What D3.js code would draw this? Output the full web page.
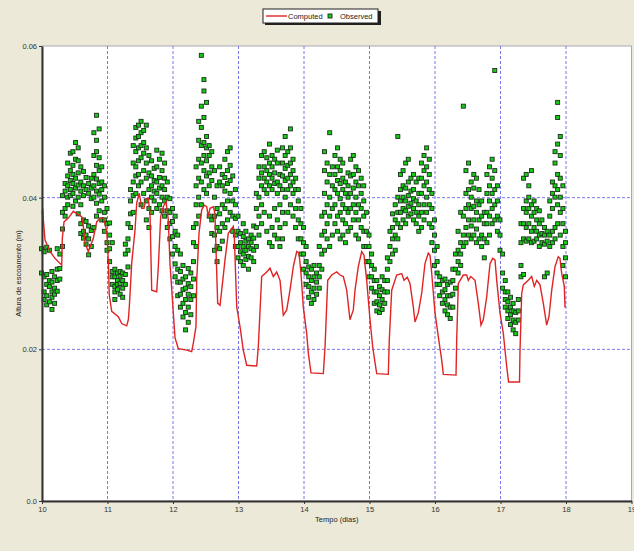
<!DOCTYPE html>
<html>
<head>
<meta charset="utf-8">
<script src="https://cdn.jsdelivr.net/npm/d3@7"></script>
<style>
  html, body { margin: 0; padding: 0; background: #ECE9D8; }
  svg { display: block; font-family: "Liberation Sans", Arial, sans-serif; }
</style>
</head>
<body>
<div id="chart"></div>
<script>
// Axis ticks
const xTicks = [10, 11, 12, 13, 14, 15, 16, 17, 18, 19];
const yTicks = [0, 0.02, 0.04, 0.06];
const yTickLabels = ["0.0", "0.02", "0.04", "0.06"];
const xTitle = "Tempo (dias)";
const yTitle = "Altura de escoamento (m)";
const seriesNames = ["Computed", "Observed"];

// Computed flow height: [day, metres]
const computed = [
  [10.0, 0.0378], [10.011, 0.0386], [10.02, 0.0371], [10.046, 0.0344], [10.122, 0.0329],
  [10.198, 0.0320], [10.301, 0.0311], [10.31, 0.0346], [10.336, 0.0368], [10.402, 0.0373],
  [10.478, 0.0382], [10.53, 0.0379], [10.606, 0.0375], [10.631, 0.0362], [10.656, 0.0340],
  [10.707, 0.0329], [10.733, 0.0335], [10.783, 0.0346], [10.835, 0.0368], [10.885, 0.0373],
  [10.936, 0.0373], [10.988, 0.0357], [11.012, 0.0318], [11.027, 0.0272], [11.064, 0.0250],
  [11.165, 0.0243], [11.217, 0.0234], [11.293, 0.0231], [11.318, 0.0239], [11.333, 0.0256],
  [11.369, 0.0313], [11.42, 0.0357], [11.446, 0.0393], [11.485, 0.0406], [11.522, 0.0386],
  [11.557, 0.0386], [11.588, 0.0399], [11.623, 0.0399], [11.649, 0.0379], [11.675, 0.0278],
  [11.751, 0.0276], [11.776, 0.0309], [11.812, 0.0375], [11.852, 0.0388], [11.893, 0.0395],
  [11.928, 0.0371], [11.954, 0.0313], [12.005, 0.0248], [12.031, 0.0215], [12.081, 0.0201],
  [12.209, 0.0199], [12.285, 0.0197], [12.31, 0.0208], [12.351, 0.0230], [12.362, 0.0291],
  [12.397, 0.0353], [12.438, 0.0384], [12.478, 0.0390], [12.515, 0.0388], [12.539, 0.0375],
  [12.565, 0.0386], [12.615, 0.0388], [12.641, 0.0379], [12.652, 0.0344], [12.682, 0.0261],
  [12.718, 0.0258], [12.744, 0.0278], [12.794, 0.0318], [12.844, 0.0353], [12.921, 0.0362],
  [12.936, 0.0349], [12.973, 0.0256], [13.023, 0.0230], [13.073, 0.0199], [13.125, 0.0179],
  [13.278, 0.0178], [13.302, 0.0203], [13.354, 0.0296], [13.431, 0.0302], [13.481, 0.0307],
  [13.531, 0.0296], [13.583, 0.0302], [13.634, 0.0291], [13.684, 0.0245], [13.736, 0.0252],
  [13.786, 0.0278], [13.837, 0.0309], [13.889, 0.0329], [13.924, 0.0327], [13.954, 0.0300],
  [13.989, 0.0256], [14.041, 0.0221], [14.066, 0.0195], [14.107, 0.0169], [14.295, 0.0168],
  [14.321, 0.0203], [14.362, 0.0291], [14.423, 0.0298], [14.499, 0.0302], [14.55, 0.0298],
  [14.6, 0.0296], [14.652, 0.0278], [14.702, 0.0239], [14.753, 0.0252], [14.779, 0.0278],
  [14.829, 0.0309], [14.881, 0.0329], [14.916, 0.0324], [14.957, 0.0291], [15.008, 0.0239],
  [15.049, 0.0203], [15.11, 0.0168], [15.287, 0.0167], [15.302, 0.0212], [15.339, 0.0278],
  [15.415, 0.0298], [15.492, 0.0300], [15.527, 0.0291], [15.577, 0.0295], [15.618, 0.0287],
  [15.669, 0.0256], [15.695, 0.0236], [15.745, 0.0248], [15.797, 0.0274], [15.847, 0.0313],
  [15.898, 0.0327], [15.924, 0.0324], [15.95, 0.0300], [16.0, 0.0248], [16.05, 0.0217],
  [16.102, 0.0186], [16.127, 0.0167], [16.321, 0.0166], [16.331, 0.0212], [16.356, 0.0287],
  [16.432, 0.0298], [16.484, 0.0298], [16.508, 0.0291], [16.545, 0.0296], [16.611, 0.0291],
  [16.661, 0.0261], [16.702, 0.0232], [16.737, 0.0239], [16.789, 0.0269], [16.84, 0.0313],
  [16.881, 0.0320], [16.916, 0.0318], [16.942, 0.0291], [16.992, 0.0248], [17.043, 0.0221],
  [17.095, 0.0177], [17.119, 0.0160], [17.122, 0.0157], [17.29, 0.0157], [17.298, 0.0199],
  [17.324, 0.0274], [17.348, 0.0285], [17.424, 0.0291], [17.476, 0.0296], [17.516, 0.0283],
  [17.553, 0.0291], [17.603, 0.0285], [17.653, 0.0261], [17.705, 0.0232], [17.74, 0.0243],
  [17.782, 0.0278], [17.832, 0.0309], [17.882, 0.0322], [17.908, 0.0320], [17.934, 0.0300],
  [17.974, 0.0283], [17.985, 0.0256], [18.0, 0.0256]
];

// Observed flow height: [day, [values in mm]]
const observedMm = [
  [10.00, [33.2, 30.0]], [10.04, [32.8, 29.5, 27.5, 26.5]], [10.08, [33.4, 28.5, 27.0, 25.8, 29.8]],
  [10.12, [28.2, 26.2, 29.0, 33.0]], [10.16, [27.5, 28.8, 26.8, 25.2, 30.2]], [10.20, [28.0, 27.2, 29.5, 26.0]],
  [10.24, [29.0, 27.6, 30.5, 33.2]], [10.28, [30.6, 29.2, 32.5]], [10.32, [33.5, 35.8, 38.0, 40.2]],
  [10.36, [38.5, 40.8, 41.8, 37.5]], [10.40, [40.0, 41.5, 42.8, 44.5, 39.0]], [10.44, [41.0, 42.2, 43.5, 45.8, 40.2]],
  [10.48, [40.5, 41.8, 43.0, 44.2, 46.0, 38.8]], [10.52, [41.2, 42.5, 39.5, 45.0, 47.2]],
  [10.56, [40.0, 41.6, 43.2, 44.8, 46.5, 37.8]], [10.60, [39.0, 40.8, 42.0, 44.0, 36.5, 35.2]],
  [10.64, [35.5, 37.0, 40.2, 41.5, 43.4, 34.6]], [10.68, [33.8, 35.0, 36.8, 41.0, 42.6]],
  [10.72, [32.4, 34.5, 36.2, 40.5, 41.8]], [10.76, [33.5, 35.6, 39.8, 41.2, 42.5]],
  [10.80, [36.0, 40.0, 41.5, 43.0, 45.5, 48.5]], [10.84, [37.5, 39.2, 40.8, 42.4, 44.2, 46.0, 47.5, 50.8]],
  [10.88, [38.2, 40.4, 41.8, 43.5, 45.2, 49.0]], [10.92, [37.0, 39.5, 41.0, 42.0, 44.0]],
  [10.96, [35.5, 38.0, 40.0, 41.5, 37.0]], [11.00, [34.0, 36.5, 38.5, 33.0]],
  [11.04, [33.2, 35.0, 36.6, 31.5]], [11.08, [29.5, 28.5, 30.2, 34.0]], [11.12, [28.2, 29.5, 30.5, 27.5, 26.5]],
  [11.16, [27.8, 29.0, 30.0, 28.5]], [11.20, [28.6, 29.6, 27.2, 30.2]], [11.24, [29.0, 28.0, 30.0, 26.8]],
  [11.28, [28.5, 29.8, 32.5, 33.8]], [11.32, [30.8, 33.0, 34.5, 36.5]], [11.36, [36.0, 37.8, 39.5, 41.0]],
  [11.40, [38.0, 40.2, 42.0, 44.5, 46.8]], [11.44, [40.5, 42.8, 44.0, 46.0, 47.8, 49.2]],
  [11.48, [41.5, 43.0, 44.8, 46.5, 48.0, 49.5]], [11.52, [39.0, 42.0, 45.2, 46.8, 48.5, 50.0]],
  [11.56, [40.5, 43.5, 45.8, 47.2, 48.8]], [11.60, [37.0, 39.5, 42.5, 44.5, 46.5, 49.5]],
  [11.64, [36.0, 38.5, 41.0, 43.2, 45.5]], [11.68, [38.0, 40.0, 41.5, 42.8, 44.8]],
  [11.72, [39.5, 40.8, 42.2, 43.8]], [11.76, [38.5, 40.5, 42.0, 44.0, 46.2]], [11.80, [39.0, 41.2, 42.6, 45.0]],
  [11.84, [38.2, 40.0, 41.5, 43.5, 45.8]], [11.88, [37.5, 39.5, 41.0, 42.5, 44.5]],
  [11.92, [36.0, 38.2, 40.0, 42.0]], [11.96, [34.5, 36.5, 38.0, 39.8]], [12.00, [32.5, 34.8, 36.8, 38.5]],
  [12.04, [29.5, 31.2, 33.5, 35.5, 37.5]], [12.08, [27.0, 28.8, 30.5, 33.0, 35.0]],
  [12.12, [25.5, 27.2, 28.8, 30.2, 32.5]], [12.16, [24.2, 26.0, 27.8, 29.2, 31.0]],
  [12.20, [22.5, 24.8, 26.5, 28.0, 29.5]], [12.24, [23.5, 25.5, 27.2, 28.6, 30.6]],
  [12.28, [24.5, 26.5, 28.2, 30.0]], [12.32, [27.0, 29.2, 31.5, 34.0, 36.0]],
  [12.36, [33.5, 36.5, 39.0, 41.5, 44.0]], [12.40, [37.5, 40.0, 42.5, 45.0, 47.5, 50.0]],
  [12.44, [39.0, 42.0, 44.5, 46.8, 49.2, 52.0, 58.7]], [12.48, [41.0, 43.5, 45.5, 47.2, 50.5, 54.0, 55.5]],
  [12.52, [40.5, 42.8, 44.8, 46.5, 48.0, 52.5]], [12.56, [37.5, 41.5, 43.2, 45.5, 46.8]],
  [12.60, [35.2, 37.0, 42.2, 44.0, 46.0]], [12.64, [33.0, 35.0, 37.5, 40.0, 43.5]],
  [12.68, [31.5, 33.5, 36.0, 38.5, 41.5]], [12.72, [33.2, 35.5, 37.8, 42.0, 44.0]],
  [12.76, [34.2, 36.5, 39.0, 41.5, 43.0]], [12.80, [36.0, 38.5, 40.8, 42.6, 45.0]],
  [12.84, [37.0, 39.5, 41.8, 43.5, 46.0]], [12.88, [38.0, 40.5, 42.2, 44.2, 46.5]],
  [12.92, [35.5, 37.5, 39.5, 42.8]], [12.96, [33.5, 35.0, 37.2, 39.0, 41.0]], [13.00, [32.0, 33.5, 35.5, 37.5]],
  [13.04, [31.5, 32.8, 34.0, 35.2]], [13.08, [31.0, 32.5, 33.5, 34.8, 36.5]], [13.12, [31.8, 33.0, 34.2, 35.5]],
  [13.16, [32.2, 33.5, 34.5, 30.5]], [13.20, [32.0, 33.2, 34.0, 35.0]], [13.24, [31.5, 33.0, 34.6, 36.2]],
  [13.28, [33.5, 36.0, 38.5, 40.5]], [13.32, [35.0, 37.5, 40.0, 42.5, 44.0]],
  [13.36, [36.5, 39.0, 41.5, 43.2, 45.5]], [13.40, [38.0, 41.0, 42.5, 44.0, 46.0]],
  [13.44, [35.5, 40.5, 42.0, 43.5, 45.2]], [13.48, [34.0, 37.5, 41.5, 43.0, 44.5, 47.0]],
  [13.52, [33.5, 36.0, 41.0, 42.5, 44.0, 45.5]], [13.56, [35.0, 38.5, 41.8, 43.2, 45.0]],
  [13.60, [34.5, 37.0, 40.5, 42.0, 44.5, 46.2]], [13.64, [33.5, 36.0, 39.0, 41.5, 43.0]],
  [13.68, [34.5, 38.0, 41.0, 42.8, 44.5, 46.5]], [13.72, [36.5, 40.0, 42.2, 43.8, 45.5, 48.0]],
  [13.76, [38.0, 41.0, 42.5, 44.2, 46.0]], [13.80, [39.0, 41.5, 43.0, 44.5, 46.5, 49.0]],
  [13.84, [37.5, 40.5, 42.0, 43.5, 45.0]], [13.88, [36.0, 38.5, 41.0, 42.5]],
  [13.92, [34.5, 37.0, 39.5, 41.0]], [13.96, [32.5, 34.5, 36.5, 38.5]], [14.00, [30.5, 32.5, 34.0, 36.0]],
  [14.04, [28.5, 30.0, 31.5, 33.5]], [14.08, [26.8, 28.2, 29.5, 30.8]], [14.12, [26.0, 27.5, 29.0, 30.5]],
  [14.16, [26.5, 28.0, 29.5, 31.0]], [14.20, [27.2, 28.8, 30.0]], [14.24, [28.0, 29.5, 31.0, 33.5]],
  [14.28, [30.5, 32.5, 35.0, 37.5]], [14.32, [33.0, 35.5, 38.0, 40.5, 43.5, 46.0]],
  [14.36, [34.5, 36.5, 39.0, 42.0, 44.5]], [14.40, [33.5, 37.5, 40.0, 43.0, 48.5]],
  [14.44, [35.0, 38.5, 41.5, 44.0]], [14.48, [36.5, 39.0, 41.0, 43.0, 45.5]],
  [14.52, [35.5, 37.5, 40.5, 42.2, 44.0, 46.5]], [14.56, [34.5, 38.0, 39.8, 41.8, 43.5, 45.0]],
  [14.60, [35.0, 37.0, 39.0, 41.0, 42.5, 44.5]], [14.64, [34.0, 36.5, 38.5, 40.5, 42.0]],
  [14.68, [35.5, 38.0, 40.0, 41.5, 43.2]], [14.72, [36.0, 38.5, 40.5, 42.8, 45.0]],
  [14.76, [37.0, 39.0, 41.2, 43.0, 45.5]], [14.80, [35.0, 38.0, 40.0, 42.0, 44.0]],
  [14.84, [34.5, 37.0, 39.0, 41.5, 43.5]], [14.88, [36.0, 38.5, 40.5, 42.5]],
  [14.92, [33.5, 35.5, 37.5, 39.5, 41.5]], [14.96, [31.5, 33.5, 35.5, 38.0]], [15.00, [29.5, 31.5, 33.5, 35.0]],
  [15.04, [28.0, 29.5, 31.0, 32.5]], [15.08, [26.0, 27.5, 29.0, 30.5]], [15.12, [25.0, 26.2, 27.5, 29.0]],
  [15.16, [24.8, 25.8, 27.0, 28.2]], [15.20, [25.2, 26.5, 27.8, 29.5]], [15.24, [26.0, 27.5, 29.0]],
  [15.28, [27.5, 29.0, 30.5, 32.0]], [15.32, [31.5, 33.5, 35.5]], [15.36, [32.5, 34.5, 36.0, 37.8]],
  [15.40, [33.0, 35.0, 37.0, 39.0]], [15.44, [34.5, 36.5, 38.0, 40.0, 48.0]],
  [15.48, [36.0, 38.0, 39.5, 41.0, 43.0]], [15.52, [37.0, 38.5, 40.0, 41.5, 43.5]],
  [15.56, [36.5, 38.2, 39.5, 41.2, 44.5]], [15.60, [37.5, 38.8, 40.2, 42.0, 45.0]],
  [15.64, [37.8, 39.2, 40.8, 42.5]], [15.68, [37.0, 38.5, 39.8, 41.0, 43.0]],
  [15.72, [36.5, 38.0, 39.5, 42.0]], [15.76, [35.5, 37.5, 39.0, 40.5, 42.5]],
  [15.80, [36.0, 38.0, 40.5, 42.5, 44.5]], [15.84, [37.0, 39.0, 41.5, 43.5, 45.5]],
  [15.88, [38.0, 40.0, 42.0, 44.0, 46.5]], [15.92, [36.5, 39.0, 41.0, 43.0, 45.0]],
  [15.96, [34.0, 36.0, 38.5, 40.5]], [16.00, [31.0, 33.0, 35.0, 37.0]],
  [16.04, [28.5, 30.0, 31.5, 33.5]], [16.08, [27.0, 28.5, 29.5]], [16.12, [26.0, 27.5, 29.0]],
  [16.16, [25.0, 26.5, 27.8, 29.2]], [16.20, [24.5, 25.8, 27.0, 28.5]], [16.24, [24.0, 25.5, 27.0, 28.8]],
  [16.28, [25.5, 27.2, 29.0, 30.5]], [16.32, [28.0, 30.5, 32.5]], [16.36, [30.0, 31.5, 33.0, 35.5]],
  [16.40, [31.0, 32.5, 34.0, 38.0]], [16.44, [33.5, 35.0, 37.5, 52.0]],
  [16.48, [34.0, 36.0, 38.5, 40.5, 43.5]], [16.52, [35.0, 37.0, 39.0, 41.0, 44.5]],
  [16.56, [34.5, 36.2, 38.5, 40.0, 42.0]], [16.60, [35.0, 37.0, 38.8, 41.2, 43.0]],
  [16.64, [34.0, 35.8, 38.0, 39.5, 42.5]], [16.68, [34.5, 37.0, 39.0, 41.0]],
  [16.72, [33.5, 35.0, 37.5, 39.5]], [16.76, [32.0, 34.5, 36.5, 38.0]],
  [16.80, [34.0, 36.5, 38.0, 40.5, 43.0]], [16.84, [35.0, 37.5, 39.5, 41.5, 44.0]],
  [16.88, [36.5, 38.5, 40.5, 42.5, 45.0]], [16.92, [37.0, 39.0, 41.0, 43.5, 56.7]],
  [16.96, [35.5, 37.5, 39.5, 41.5]], [17.00, [33.0, 35.0, 37.0]],
  [17.04, [28.0, 30.0, 32.5]], [17.08, [25.5, 26.5, 27.5, 29.0]], [17.12, [24.0, 25.0, 26.2, 27.5]],
  [17.16, [23.2, 24.5, 25.5, 26.8]], [17.20, [22.5, 23.8, 25.0, 26.0]], [17.24, [22.0, 23.5, 24.8]],
  [17.28, [23.8, 25.0, 26.5]], [17.32, [29.5, 31.0, 34.0, 36.5]], [17.36, [29.8, 34.5, 36.5, 38.5, 42.5]],
  [17.40, [34.2, 36.0, 38.0, 39.5, 43.0]], [17.44, [34.5, 36.5, 38.5, 40.0, 41.5]],
  [17.48, [34.0, 35.5, 37.5, 39.0, 43.5]], [17.52, [34.2, 36.0, 38.0, 39.5]],
  [17.56, [34.5, 35.5, 37.0, 38.5]], [17.60, [33.5, 35.0, 36.5, 38.2]], [17.64, [34.0, 35.2, 37.0]],
  [17.68, [33.8, 35.0, 36.0, 29.5]], [17.72, [34.2, 35.5, 30.0]], [17.76, [33.5, 35.0, 37.5, 39.5]],
  [17.80, [34.0, 35.5, 38.5, 40.5, 42.0]], [17.84, [34.5, 36.0, 40.0, 41.5, 44.5, 46.0]],
  [17.88, [36.5, 39.0, 41.0, 43.0, 47.0, 50.5, 52.5]], [17.92, [35.0, 38.0, 40.0, 42.5, 45.5, 48.0]],
  [17.96, [31.0, 33.5, 36.5, 38.5, 41.5]], [18.00, [29.5, 32.0, 34.0, 35.5]]
];

// Flatten observed groups into points (mm -> m)
const observed = observedMm.flatMap(([t, vals]) => vals.map(v => ({ t, v: v / 1000 })));

// Dimensions
const width = 634;
const height = 551;
const margin = { top: 46, right: 2.5, bottom: 50, left: 42 };
const innerWidth = width - margin.left - margin.right;
const innerHeight = height - margin.top - margin.bottom;

const svg = d3.select("#chart").append("svg")
    .attr("width", width)
    .attr("height", height);

svg.append("rect")
    .attr("width", width)
    .attr("height", height)
    .attr("fill", "#ECE9D8");

const gRoot = svg.append("g")
    .attr("transform", `translate(${margin.left}, ${margin.top})`);

// Scales
const xScale = d3.scaleLinear().domain([10, 19]).range([0, innerWidth]);
const yScale = d3.scaleLinear().domain([0, 0.06]).range([innerHeight, 0]);

// Plot area
gRoot.append("rect")
    .attr("width", innerWidth)
    .attr("height", innerHeight)
    .attr("fill", "#ffffff")
    .attr("stroke", "#a8a8b8")
    .attr("stroke-width", 1);

// Grid lines
const gGrid = gRoot.append("g").attr("class", "grid");
gGrid.selectAll("line.vx")
    .data(xTicks.filter(d => d > 10 && d < 19))
    .join("line")
    .attr("x1", d => xScale(d)).attr("x2", d => xScale(d))
    .attr("y1", 0).attr("y2", innerHeight)
    .attr("stroke", "#7878e8")
    .attr("stroke-width", 1)
    .attr("stroke-dasharray", "3,2");
gGrid.selectAll("line.hy")
    .data(yTicks.filter(d => d > 0 && d < 0.06))
    .join("line")
    .attr("x1", 0).attr("x2", innerWidth)
    .attr("y1", d => yScale(d)).attr("y2", d => yScale(d))
    .attr("stroke", "#7878e8")
    .attr("stroke-width", 1)
    .attr("stroke-dasharray", "3,2");

// Observed points
const marker = 5;
gRoot.append("g").attr("class", "observed")
    .selectAll("rect")
    .data(observed)
    .join("rect")
    .attr("x", d => xScale(d.t) - marker / 2)
    .attr("y", d => yScale(d.v) - marker / 2)
    .attr("width", marker - 1)
    .attr("height", marker - 1)
    .attr("fill", "#14cc14")
    .attr("stroke", "#1c2e1c")
    .attr("stroke-width", 0.9);

// Computed line
const line = d3.line()
    .x(d => xScale(d[0]))
    .y(d => yScale(d[1]));

gRoot.append("path")
    .datum(computed)
    .attr("fill", "none")
    .attr("stroke", "#e02424")
    .attr("stroke-width", 1.4)
    .attr("d", line);

// Axes
const gXAxis = gRoot.append("g")
    .attr("transform", `translate(0, ${innerHeight})`)
    .call(d3.axisBottom(xScale).tickValues(xTicks).tickFormat(d3.format("d")).tickSize(3).tickSizeOuter(0).tickPadding(3));
const gYAxis = gRoot.append("g")
    .call(d3.axisLeft(yScale).tickValues(yTicks).tickFormat((d, i) => yTickLabels[i]).tickSize(3).tickSizeOuter(0).tickPadding(2));

[gXAxis, gYAxis].forEach(g => {
    g.select(".domain").attr("stroke", "#333").attr("stroke-width", 2);
    g.selectAll(".tick line").attr("stroke", "#333");
    g.selectAll(".tick text")
        .attr("fill", "#333")
        .attr("font-size", "7.5px")
        .attr("font-family", "'Liberation Sans', Arial, sans-serif");
});

// Axis titles
gRoot.append("text")
    .attr("x", innerWidth / 2)
    .attr("y", innerHeight + 21)
    .attr("text-anchor", "middle")
    .attr("font-size", "7.5px")
    .attr("fill", "#222")
    .text(xTitle);

gRoot.append("text")
    .attr("transform", `translate(-21, ${innerHeight / 2}) rotate(-90)`)
    .attr("text-anchor", "middle")
    .attr("font-size", "7.5px")
    .attr("fill", "#222")
    .text(yTitle);

// Legend
const legend = svg.append("g").attr("transform", "translate(263, 9)");
legend.append("rect")
    .attr("x", 2).attr("y", 2).attr("width", 116).attr("height", 14)
    .attr("fill", "#202020");
legend.append("rect")
    .attr("width", 115).attr("height", 14)
    .attr("fill", "#ffffff")
    .attr("stroke", "#202020")
    .attr("stroke-width", 1);
legend.append("line")
    .attr("x1", 3).attr("x2", 24).attr("y1", 7).attr("y2", 7)
    .attr("stroke", "#e02424").attr("stroke-width", 1.4);
legend.append("text")
    .attr("x", 25).attr("y", 10)
    .attr("font-size", "7.5px").attr("fill", "#222")
    .text(seriesNames[0]);
legend.append("rect")
    .attr("x", 65).attr("y", 5).attr("width", 4).attr("height", 4)
    .attr("fill", "#14cc14").attr("stroke", "#1c2e1c").attr("stroke-width", 0.9);
legend.append("text")
    .attr("x", 77).attr("y", 10)
    .attr("font-size", "7.5px").attr("fill", "#222")
    .text(seriesNames[1]);
</script>
</body>
</html>
